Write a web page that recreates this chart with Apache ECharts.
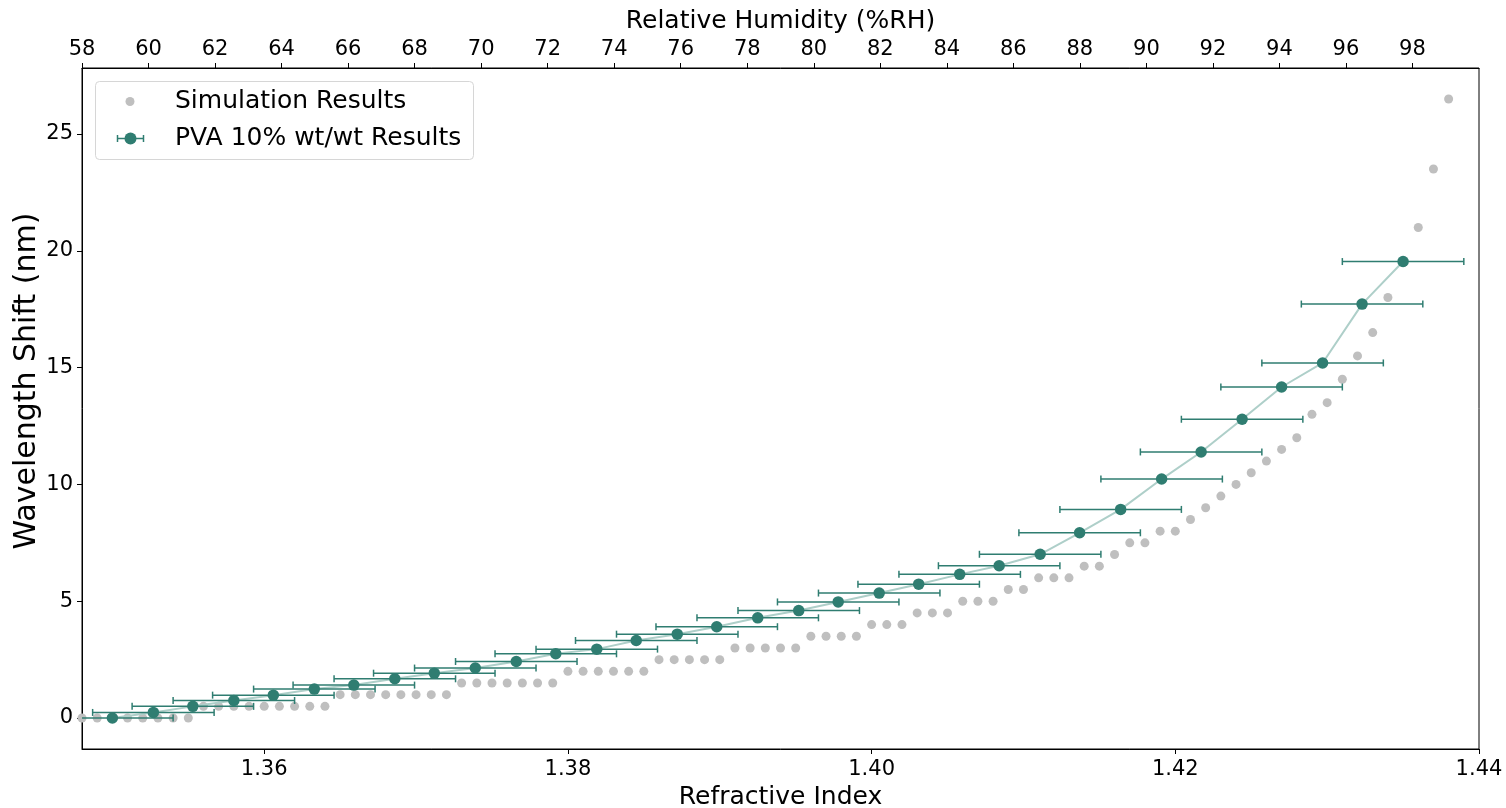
<!DOCTYPE html>
<html>
<head>
<meta charset="utf-8">
<script src="https://cdn.jsdelivr.net/npm/echarts@6/dist/echarts.min.js"></script>
<style>
  html, body { margin: 0; padding: 0; background: #ffffff; }
  #chart { width: 1506px; height: 808px; }
</style>
</head>
<body>
<div id="chart"></div>
<script>
// ---- Data ----
const simX = [
  1.348, 1.349, 1.350, 1.351, 1.352, 1.353, 1.354, 1.355,
  1.356, 1.357, 1.358, 1.359, 1.360, 1.361, 1.362, 1.363, 1.364,
  1.365, 1.366, 1.367, 1.368, 1.369, 1.370, 1.371, 1.372,
  1.373, 1.374, 1.375, 1.376, 1.377, 1.378, 1.379,
  1.380, 1.381, 1.382, 1.383, 1.384, 1.385,
  1.386, 1.387, 1.388, 1.389, 1.390,
  1.391, 1.392, 1.393, 1.394, 1.395,
  1.396, 1.397, 1.398, 1.399,
  1.400, 1.401, 1.402,
  1.403, 1.404, 1.405,
  1.406, 1.407, 1.408,
  1.409, 1.410,
  1.411, 1.412, 1.413,
  1.414, 1.415,
  1.416, 1.417, 1.418, 1.419, 1.420, 1.421, 1.422, 1.423, 1.424, 1.425,
  1.426, 1.427, 1.428, 1.429, 1.430, 1.431, 1.432, 1.433, 1.434, 1.435,
  1.436, 1.437, 1.438
];
const simY = [
  0, 0, 0, 0, 0, 0, 0, 0,
  0.5, 0.5, 0.5, 0.5, 0.5, 0.5, 0.5, 0.5, 0.5,
  1, 1, 1, 1, 1, 1, 1, 1,
  1.5, 1.5, 1.5, 1.5, 1.5, 1.5, 1.5,
  2, 2, 2, 2, 2, 2,
  2.5, 2.5, 2.5, 2.5, 2.5,
  3, 3, 3, 3, 3,
  3.5, 3.5, 3.5, 3.5,
  4, 4, 4,
  4.5, 4.5, 4.5,
  5, 5, 5,
  5.5, 5.5,
  6, 6, 6,
  6.5, 6.5,
  7, 7.5, 7.5, 8, 8, 8.5, 9, 9.5, 10, 10.5,
  11, 11.5, 12, 13, 13.5, 14.5, 15.5, 16.5, 18, 19.5,
  21, 23.5, 26.5
];
const pvaX = [
  1.3500, 1.3527, 1.3553, 1.3580, 1.3606, 1.3633, 1.3659, 1.3686, 1.3712, 1.3739,
  1.3766, 1.3792, 1.3819, 1.3845, 1.3872, 1.3898, 1.3925, 1.3952, 1.3978, 1.4005,
  1.4031, 1.4058, 1.4084, 1.4111, 1.4137, 1.4164, 1.4191, 1.4217, 1.4244, 1.4270,
  1.4297, 1.4323, 1.4350
];
const pvaY = [
  0.00, 0.24, 0.50, 0.75, 0.98, 1.24, 1.41, 1.68, 1.92, 2.14,
  2.42, 2.75, 2.95, 3.32, 3.59, 3.91, 4.29, 4.60, 4.97, 5.35,
  5.73, 6.15, 6.52, 7.01, 7.93, 8.93, 10.23, 11.39, 12.79, 14.17,
  15.20, 17.72, 19.54
];
const pvaXErr = [
  0.004, 0.004, 0.004, 0.004, 0.004, 0.004, 0.004, 0.004, 0.004, 0.004,
  0.004, 0.004, 0.004, 0.004, 0.004, 0.004, 0.004, 0.004, 0.004, 0.004,
  0.004, 0.004, 0.004, 0.004, 0.004, 0.004, 0.004, 0.004, 0.004, 0.004,
  0.004, 0.004, 0.004
];
const riTicks = [1.36, 1.38, 1.40, 1.42, 1.44];
const rhTicks = [58, 60, 62, 64, 66, 68, 70, 72, 74, 76, 78, 80, 82, 84, 86, 88, 90, 92, 94, 96, 98];
const shiftTicks = [0, 5, 10, 15, 20, 25];
const riRange = [1.348, 1.44];
const rhRange = [58, 100];
const shiftRange = [-1.325, 27.825];
const simName = 'Simulation Results';
const pvaName = 'PVA 10% wt/wt Results';
const xTitle = 'Refractive Index';
const x2Title = 'Relative Humidity (%RH)';
const yTitle = 'Wavelength Shift (nm)';

// ---- Styles ----
const FONT = '"DejaVu Sans", "Liberation Sans", sans-serif';
const GREEN = '#2f7d71';
const GREEN_LIGHT = '#aecfc9';
const GRAY = '#bfbfbf';

const simData = simX.map((x, i) => [x, simY[i]]);
const pvaData = pvaX.map((x, i) => [x, pvaY[i]]);
const errData = pvaX.map((x, i) => [x, pvaY[i], pvaXErr[i]]);

const chart = echarts.init(document.getElementById('chart'), null, { renderer: 'canvas' });

const labelStyle = { color: '#000', fontSize: 21, fontFamily: FONT };
const nameStyle = { color: '#000', fontSize: 25, fontFamily: FONT };

const option = {
  animation: false,
  backgroundColor: '#ffffff',
  grid: {
    left: 82, top: 68, right: 27, bottom: 59,
    containLabel: false, outerBoundsMode: 'none',
    show: true, borderColor: '#000', borderWidth: 1, backgroundColor: 'transparent'
  },
  xAxis: [
    {
      type: 'value', position: 'bottom', min: riRange[0], max: riRange[1],
      name: xTitle, nameLocation: 'middle', nameGap: 36, nameTextStyle: nameStyle,
      axisLine: { show: true, onZero: false, lineStyle: { color: '#000', width: 1 } },
      axisTick: { show: true, length: 5, lineStyle: { color: '#000' }, customValues: riTicks },
      axisLabel: { ...labelStyle, margin: 10, customValues: riTicks, formatter: v => v.toFixed(2) },
      splitLine: { show: false }
    },
    {
      type: 'value', position: 'top', min: rhRange[0], max: rhRange[1],
      name: x2Title, nameLocation: 'middle', nameGap: 34, nameTextStyle: nameStyle,
      axisLine: { show: true, onZero: false, lineStyle: { color: '#000', width: 1 } },
      axisTick: { show: true, length: 5, lineStyle: { color: '#000' }, customValues: rhTicks },
      axisLabel: { ...labelStyle, margin: 8, customValues: rhTicks, formatter: v => String(v) },
      splitLine: { show: false }
    }
  ],
  yAxis: [
    {
      type: 'value', min: shiftRange[0], max: shiftRange[1],
      axisLine: { show: true, onZero: false, lineStyle: { color: '#000', width: 1 } },
      axisTick: { show: true, length: 5, lineStyle: { color: '#000' }, customValues: shiftTicks },
      axisLabel: { ...labelStyle, margin: 9, customValues: shiftTicks, formatter: v => String(v) },
      splitLine: { show: false }
    }
  ],
  series: [
    {
      name: simName, type: 'scatter', xAxisIndex: 0, yAxisIndex: 0,
      data: simData, symbol: 'circle', symbolSize: 9,
      itemStyle: { color: GRAY, opacity: 1 }, z: 2, clip: true,
      emphasis: { disabled: true }
    },
    {
      name: pvaName + ' line', type: 'line', xAxisIndex: 0, yAxisIndex: 0,
      data: pvaData, symbol: 'none', lineStyle: { color: GREEN_LIGHT, width: 2 },
      z: 3, clip: true, silent: true
    },
    {
      name: pvaName + ' errors', type: 'custom', xAxisIndex: 0, yAxisIndex: 0,
      data: errData, encode: { x: 0, y: 1 }, z: 4, silent: true,
      renderItem: function (params, api) {
        const x = api.value(0), y = api.value(1), e = api.value(2);
        const cs = params.coordSys;
        const pl = api.coord([x - e, y]);
        const pr = api.coord([x + e, y]);
        const xl = Math.max(pl[0], cs.x);
        const xr = Math.min(pr[0], cs.x + cs.width);
        const style = { stroke: GREEN, lineWidth: 1.5 };
        const children = [
          { type: 'line', shape: { x1: xl, y1: pl[1], x2: xr, y2: pr[1] }, style: style }
        ];
        if (pl[0] >= cs.x) {
          children.push({ type: 'line', shape: { x1: pl[0], y1: pl[1] - 3.5, x2: pl[0], y2: pl[1] + 3.5 }, style: style });
        }
        if (pr[0] <= cs.x + cs.width) {
          children.push({ type: 'line', shape: { x1: pr[0], y1: pr[1] - 3.5, x2: pr[0], y2: pr[1] + 3.5 }, style: style });
        }
        return { type: 'group', children: children };
      }
    },
    {
      name: pvaName, type: 'scatter', xAxisIndex: 0, yAxisIndex: 0,
      data: pvaData, symbol: 'circle', symbolSize: 11.5,
      itemStyle: { color: GREEN, opacity: 1 }, z: 5, clip: true,
      emphasis: { disabled: true }
    }
  ],
  graphic: [
    {
      type: 'text', x: 27, y: 381, rotation: Math.PI / 2, z: 100,
      style: { text: yTitle, font: '30px ' + FONT, fill: '#000', align: 'center', verticalAlign: 'middle' }
    },
    {
      type: 'group', z: 100,
      children: [
        { type: 'rect', shape: { x: 95.5, y: 81.5, width: 378, height: 78, r: 4 },
          style: { fill: 'rgba(255,255,255,0.85)', stroke: '#d6d6d6', lineWidth: 1 } },
        { type: 'circle', shape: { cx: 130, cy: 101.5, r: 4.5 }, style: { fill: GRAY } },
        { type: 'text', x: 175, y: 101.5,
          style: { text: simName, font: '25px ' + FONT, fill: '#000', verticalAlign: 'middle', align: 'left' } },
        { type: 'line', shape: { x1: 117, y1: 138.5, x2: 144, y2: 138.5 }, style: { stroke: GREEN, lineWidth: 1.5 } },
        { type: 'line', shape: { x1: 117.5, y1: 135, x2: 117.5, y2: 142 }, style: { stroke: GREEN, lineWidth: 1.5 } },
        { type: 'line', shape: { x1: 143.5, y1: 135, x2: 143.5, y2: 142 }, style: { stroke: GREEN, lineWidth: 1.5 } },
        { type: 'circle', shape: { cx: 130.5, cy: 138.5, r: 6 }, style: { fill: GREEN } },
        { type: 'text', x: 175, y: 138.5,
          style: { text: pvaName, font: '25px ' + FONT, fill: '#000', verticalAlign: 'middle', align: 'left' } }
      ]
    }
  ]
};

chart.setOption(option);
</script>
</body>
</html>
